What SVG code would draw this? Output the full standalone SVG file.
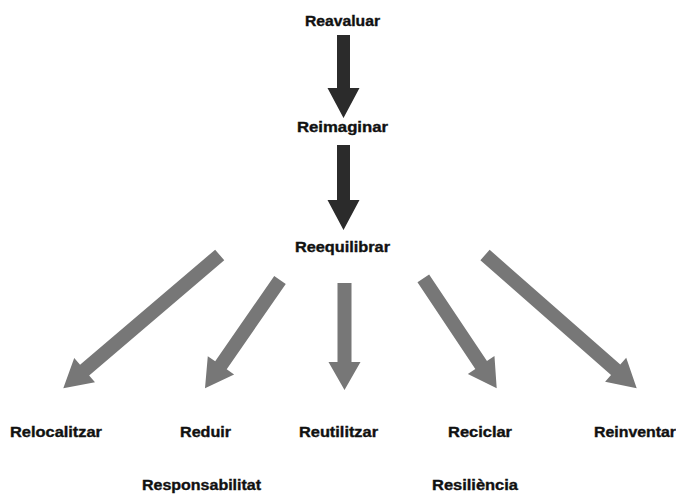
<svg xmlns="http://www.w3.org/2000/svg" width="676" height="494" viewBox="0 0 676 494">
<style>
text{font-family:"Liberation Sans",Arial,sans-serif;font-weight:bold;font-size:14px;fill:#111;stroke:#111;stroke-width:0.35;}
.dark{fill:#2b2b2b;}
.gray{fill:#777777;}
</style>
<rect width="676" height="494" fill="#ffffff"/>
<g id="connectors">
<polygon class="dark" points="337,35 350,35 350,88 359.5,88 343.5,118 327.5,88 337,88"/>
<polygon class="dark" points="337,145 350,145 350,200 359.5,200 343.5,230 327.5,200 337,200"/>
<polygon class="gray" points="215.16,249.67 80.07,364.81 74.23,357.96 63.3,388.3 94.99,382.32 89.15,375.47 224.24,260.33"/>
<polygon class="gray" points="274.24,276.01 215.19,361.29 207.79,356.17 205,388.3 234.11,374.39 226.71,369.27 285.76,283.99"/>
<polygon class="gray" points="337.5,283 351.5,283 351.5,362 360.5,362 344.5,390 328.5,362 337.5,362"/>
<polygon class="gray" points="417.48,282.19 475.33,368.89 467.84,373.88 496.7,388.3 494.46,356.12 486.97,361.11 429.12,274.41"/>
<polygon class="gray" points="480.38,260.26 611.04,375.07 605.1,381.83 636.7,388.3 626.22,357.79 620.28,364.55 489.62,249.74"/>
</g>
<g id="reavaluar"><text x="305" y="26" textLength="75" lengthAdjust="spacingAndGlyphs">Reavaluar</text></g>
<g id="reimaginar"><text x="297" y="132" textLength="91" lengthAdjust="spacingAndGlyphs">Reimaginar</text></g>
<g id="reequilibrar"><text x="295" y="252" textLength="95" lengthAdjust="spacingAndGlyphs">Reequilibrar</text></g>
<g id="relocalitzar"><text x="10" y="437" textLength="92" lengthAdjust="spacingAndGlyphs">Relocalitzar</text></g>
<g id="reduir"><text x="180" y="437" textLength="51" lengthAdjust="spacingAndGlyphs">Reduir</text></g>
<g id="reutilitzar"><text x="299" y="437" textLength="79" lengthAdjust="spacingAndGlyphs">Reutilitzar</text></g>
<g id="reciclar"><text x="448" y="437" textLength="64" lengthAdjust="spacingAndGlyphs">Reciclar</text></g>
<g id="reinventar"><text x="594" y="437" textLength="82" lengthAdjust="spacingAndGlyphs">Reinventar</text></g>
<g id="responsabilitat"><text x="142" y="490" textLength="119" lengthAdjust="spacingAndGlyphs">Responsabilitat</text></g>
<g id="resiliencia"><text x="432" y="490" textLength="86" lengthAdjust="spacingAndGlyphs">Resiliència</text></g>
</svg>
